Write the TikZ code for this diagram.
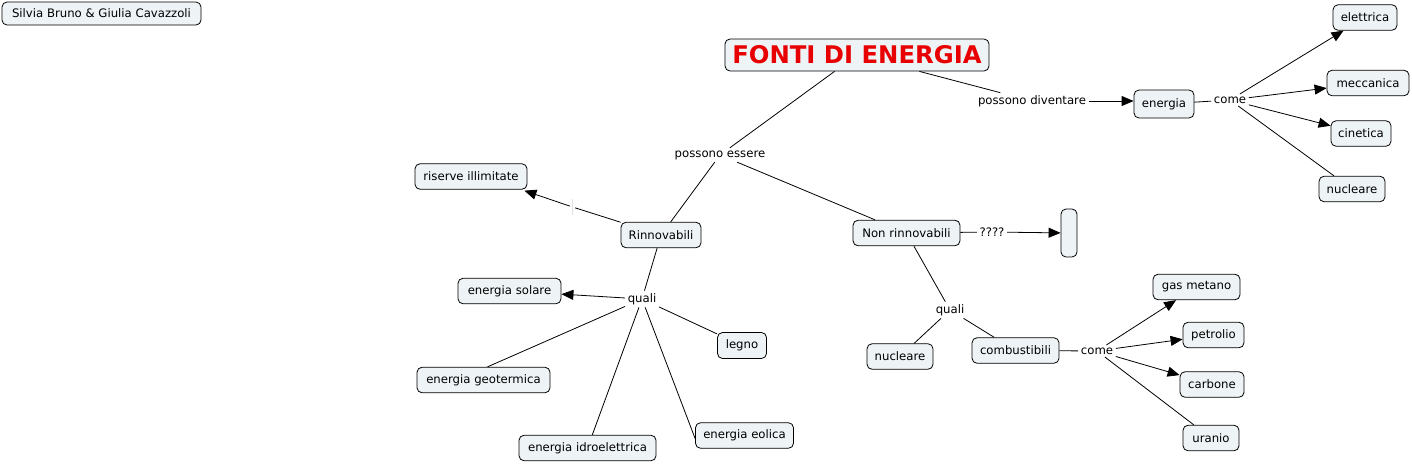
\documentclass[tikz,border=0pt]{standalone}
\usepackage{fontspec}
\setmainfont{DejaVu Sans}
\usetikzlibrary{arrows.meta}
\definecolor{boxfill}{HTML}{EEF3F6}
\definecolor{titlered}{HTML}{E80000}
\tikzset{
  cbox/.style={draw=black, line width=0.8pt, rounded corners=5pt, fill=boxfill,
    inner sep=0pt, minimum height=25.5pt, font=\fontsize{11.7}{14}\selectfont},
  lbl/.style={inner sep=2.5pt, font=\fontsize{11.7}{14}\selectfont},
  conn/.style={line width=0.8pt, black},
  arr/.style={conn, -{Triangle[length=12pt,width=10pt]}},
}
\begin{document}
\begin{tikzpicture}[x=1pt,y=-1pt]
\useasboundingbox (0,0) rectangle (1412,464);
% boxes
\node[cbox, minimum width=199pt, minimum height=23pt] (auth) at (101.5,13.5) {Silvia Bruno \& Giulia Cavazzoli};
\node[cbox, minimum width=264pt, minimum height=32pt, font=\fontsize{24.3}{28}\selectfont\bfseries, text=titlered] (fonti) at (857,55) {FONTI DI ENERGIA};
\node[cbox, minimum width=60pt, minimum height=28pt] (energia) at (1164,104) {energia};
\node[cbox, minimum width=64pt] (elet) at (1365,17.5) {elettrica};
\node[cbox, minimum width=82pt] (mecc) at (1368,83) {meccanica\hspace{4pt}};
\node[cbox, minimum width=60pt] (cin) at (1361,133.5) {cinetica};
\node[cbox, minimum width=66pt] (nuc1) at (1352,189) {nucleare};
\node[cbox, minimum width=112pt] (ris) at (471,176.5) {riserve illimitate};
\node[cbox, minimum width=80pt] (rinn) at (661,235) {Rinnovabili};
\node[cbox, minimum width=107pt] (nonr) at (906.5,233) {Non rinnovabili};
\node[cbox, minimum width=16pt, minimum height=48pt] (empty) at (1069,233) {};
\node[cbox, minimum width=103pt] (sol) at (509.5,291) {energia solare};
\node[cbox, minimum width=49pt, minimum height=26pt] (legno) at (742,345.5) {legno};
\node[cbox, minimum width=133pt] (geot) at (483.5,380) {energia geotermica};
\node[cbox, minimum width=137pt] (idro) at (587.5,448) {energia idroelettrica};
\node[cbox, minimum width=98pt] (eol) at (744.5,435.5) {energia eolica};
\node[cbox, minimum width=66pt] (nuc2) at (900,356.5) {nucleare};
\node[cbox, minimum width=87pt] (comb) at (1015.5,350.5) {combustibili};
\node[cbox, minimum width=87pt] (gas) at (1196.5,287) {gas metano};
\node[cbox, minimum width=61pt] (petr) at (1213.5,335) {petrolio};
\node[cbox, minimum width=64pt] (carb) at (1212,384.5) {carbone};
\node[cbox, minimum width=56pt] (uran) at (1211,438) {uranio};
% linking phrases
\node[lbl] (pd) at (1032,101) {possono diventare};
\node[lbl] (come1) at (1230,100) {come};
\node[lbl] (pe) at (720,155) {possono essere};
\node[lbl] (qm) at (992,232) {????};
\node[lbl] (q1) at (642,299) {quali};
\node[lbl] (q2) at (950,310) {quali};
\node[lbl] (come2) at (1097,351) {come};
\node[inner sep=0pt, minimum width=5pt, minimum height=5pt] (gap) at (572.5,207) {};
\draw[black!12, line width=0.6pt] ([yshift=-8pt]gap.center) -- ([yshift=8pt]gap.center);
% connectors
\draw[conn] (fonti) -- (pe);
\draw[conn] (fonti) -- (pd);
\draw[arr] (pd) -- ([yshift=3pt]energia.west);
\draw[conn] (energia) -- (come1);
\draw[arr] (come1) -- (elet);
\draw[arr] (come1) -- (mecc);
\draw[arr] (come1) -- (cin);
\draw[conn] (come1) -- (nuc1);
\draw[conn] (pe) -- (rinn);
\draw[conn] (pe) -- (nonr);
\draw[conn] (rinn) -- (gap);
\draw[arr] (gap) -- ([xshift=-3pt,yshift=-1pt]ris.south east);
\draw[conn] (rinn) -- (q1);
\draw[arr] (q1) -- (sol);
\draw[conn] (q1) -- (legno);
\draw[conn] (q1) -- ([xshift=4pt]geot.north);
\draw[conn] (q1) -- (idro);
\draw[conn] (q1) -- ([yshift=-3pt]eol.west);
\draw[conn] (nonr) -- (qm);
\draw[arr] (qm) -- (empty);
\draw[conn] (nonr) -- (q2);
\draw[conn] (q2) -- (nuc2);
\draw[conn] (q2) -- (comb);
\draw[conn] (comb) -- (come2);
\draw[arr] (come2) -- (gas);
\draw[arr] (come2) -- (petr);
\draw[arr] (come2) -- (carb);
\draw[conn] (come2) -- (uran);
\end{tikzpicture}
\end{document}
